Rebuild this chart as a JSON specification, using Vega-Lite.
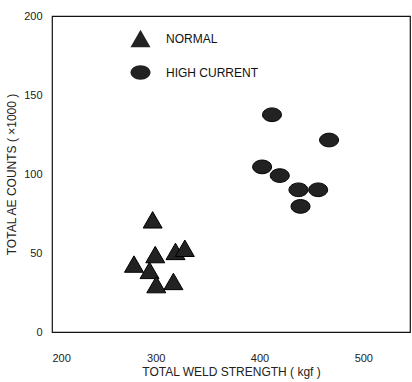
{
  "$schema": "https://vega.github.io/schema/vega-lite/v6.json",
  "width": 358,
  "height": 316,
  "autosize": {"type": "none"},
  "padding": {"left": 52, "top": 16, "right": 2, "bottom": 50},
  "background": "white",
  "config": {
    "font": "'Liberation Sans', Arial, sans-serif",
    "view": {"stroke": "#111", "strokeWidth": 1.2}
  },
  "data": {
    "values": [
      {"strength": 297, "counts": 71, "group": "NORMAL"},
      {"strength": 279, "counts": 43, "group": "NORMAL"},
      {"strength": 299.5, "counts": 49, "group": "NORMAL"},
      {"strength": 294, "counts": 39, "group": "NORMAL"},
      {"strength": 300.5, "counts": 30, "group": "NORMAL"},
      {"strength": 317, "counts": 32, "group": "NORMAL"},
      {"strength": 319, "counts": 51, "group": "NORMAL"},
      {"strength": 328, "counts": 53, "group": "NORMAL"},
      {"strength": 412, "counts": 137.5, "group": "HIGH CURRENT"},
      {"strength": 402.5, "counts": 104.5, "group": "HIGH CURRENT"},
      {"strength": 419.5, "counts": 99, "group": "HIGH CURRENT"},
      {"strength": 437.5, "counts": 90, "group": "HIGH CURRENT"},
      {"strength": 439.5, "counts": 79.5, "group": "HIGH CURRENT"},
      {"strength": 456.5, "counts": 90, "group": "HIGH CURRENT"},
      {"strength": 467, "counts": 121.5, "group": "HIGH CURRENT"}
    ]
  },
  "mark": {"type": "point", "filled": true, "fill": "#222", "stroke": "#000", "strokeWidth": 1, "opacity": 1, "size": 360},
  "encoding": {
    "x": {
      "field": "strength", "type": "quantitative",
      "scale": {"domain": [200, 545], "nice": false, "zero": false},
      "axis": {
        "title": "TOTAL WELD STRENGTH ( kgf )",
        "values": [200, 300, 400, 500],
        "grid": false, "ticks": false, "domain": false,
        "labelFontSize": 11, "labelColor": "#222", "labelPadding": 20,
        "titleFontSize": 12, "titleFontWeight": "normal", "titleColor": "#222", "titlePadding": 3
      }
    },
    "y": {
      "field": "counts", "type": "quantitative",
      "scale": {"domain": [0, 200], "nice": false},
      "axis": {
        "title": "TOTAL AE COUNTS ( ×1000 )",
        "values": [0, 50, 100, 150, 200],
        "grid": false, "ticks": false, "domain": false,
        "labelFontSize": 11, "labelColor": "#222", "labelPadding": 10,
        "titleFontSize": 12, "titleFontWeight": "normal", "titleColor": "#222", "titlePadding": 5
      }
    },
    "shape": {
      "field": "group", "type": "nominal",
      "scale": {
        "domain": ["NORMAL", "HIGH CURRENT"],
        "range": ["triangle-up", "M -1 0 A 1 0.72 0 1 0 1 0 A 1 0.72 0 1 0 -1 0 Z"]
      },
      "legend": {
        "title": null,
        "orient": "none",
        "legendX": 78,
        "legendY": 12,
        "symbolSize": 400,
        "symbolFillColor": "#222",
        "symbolStrokeColor": "#000",
        "symbolStrokeWidth": 1,
        "labelFontSize": 12,
        "labelColor": "#111",
        "labelOffset": 15,
        "rowPadding": 12
      }
    }
  }
}
